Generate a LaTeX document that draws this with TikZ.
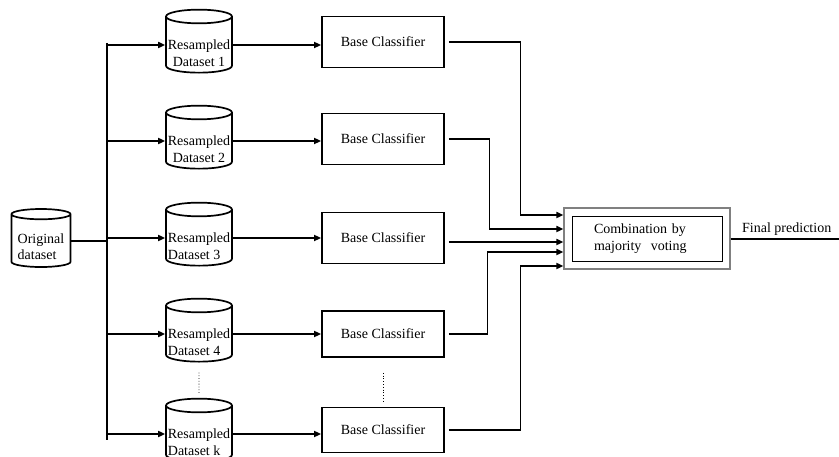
\documentclass[tikz,border=0pt]{standalone}
\usepackage{fontspec}
\setmainfont{Liberation Serif}
\usetikzlibrary{shapes.geometric,arrows.meta,fit}

\begin{document}
\begin{tikzpicture}
	[%%%%%%%%%%%%%%%%%%%%%%%%%%%%%%
	x=1pt,y=-1pt,
	font=\fontsize{14}{17}\selectfont,
	db/.style={cylinder,shape border rotate=90,draw=black,line width=1.7pt,aspect=0.22,minimum width=66pt,minimum height=63pt,inner sep=0pt},
	dbtext/.style={inner sep=0pt,font=\fontsize{14}{16.5}\selectfont},
	clf/.style={rectangle,draw=black,line width=1.8pt,minimum width=122pt},
	arr/.style={-{Triangle[length=7pt,width=6pt]},line width=1.7pt},
	wire/.style={line width=1.7pt},
	]%%%%%%%%%%%%%%%%%%%%%%%%%%%%%%
	
	\useasboundingbox (0,0) rectangle (839,457);
	
	% data sets
	\node[db,minimum width=59pt,minimum height=58pt] (orig) at (41,241) {\phantom{Original}};
	\node[dbtext,align=left] (origtxt) at ([yshift=-5.5pt]orig.center) {Original\\dataset};
	\foreach \y/\n/\al in {45/1/center,141/2/center,238/3/left,334/4/left,434/k/left}{
		\node[db] (ds\n) at (199,\y) {\phantom{Resampled}};
		\node[dbtext,align=\al] (ds\n txt) at ([yshift=-8pt]ds\n.center) {Resampled\\Dataset \n};
	}
	
	% classifiers
	\foreach \y/\n/\h in {42/1/51,139/2/51,238/3/51,334/4/46,430/k/45}
		\node[clf,minimum height=\h pt] (bc\n) at (383,\y) {Base Classifier};
	
	% voting box
	\node[rectangle,draw=black,line width=0.9pt,minimum width=150pt,minimum height=45pt,text width=106pt,align=left] (vote) at (647,238.5) {Combination by\\majority\ \ voting};
	\node[rectangle,draw=gray,line width=1.3pt,fit=(vote),inner sep=7.5pt] (combo) {};
	\node[anchor=base west,inner sep=0pt] (fp) at (742,233) {Final prediction};
	
	% splitting
	\coordinate (top) at (107,43);
	\coordinate (bot) at (107,440);
	\draw[wire] (top) -- (bot);
	\draw[wire] (orig.east) -- (orig.east -| top);
	\foreach \n in {1,2,3,4,k}{
		\draw[arr] (top |- ds\n.west) -- (ds\n.west);
		\draw[arr] (ds\n.east) -- (ds\n.east -| bc\n.west);
	}
	\draw[dotted,line width=0.8pt,shorten <=10pt,shorten >=3pt] (ds4.south) -- (dsk.north);
	\draw[dotted,line width=0.8pt,shorten <=15pt,shorten >=5pt] (bc4.south) -- (bck.north);
	
	% into the voting box
	\coordinate (in1) at ([yshift=23.5pt]combo.west);
	\coordinate (in2) at ([yshift=9.5pt]combo.west);
	\coordinate (in3) at ([yshift=-3.5pt]combo.west);
	\coordinate (in4) at ([yshift=-13.5pt]combo.west);
	\coordinate (in5) at ([yshift=-27.5pt]combo.west);
	\draw[arr,shorten <=4pt] (bc1.east) -| ([xshift=-43pt]in1) -- (in1);
	\draw[arr,shorten <=4pt] (bc2.east) -| ([xshift=-74pt]in2) -- (in2);
	\draw[arr,shorten <=4pt] (bc3.east |- in3) -- (in3);
	\draw[arr,shorten <=4pt] (bc4.east) -| ([xshift=-76pt]in4) -- (in4);
	\draw[arr,shorten <=4pt] (bck.east) -| ([xshift=-43pt]in5) -- (in5);
	
	\coordinate (out) at (839,239);
	\draw[wire] (combo.east |- out) -- (out);
	
\end{tikzpicture}
\end{document}
